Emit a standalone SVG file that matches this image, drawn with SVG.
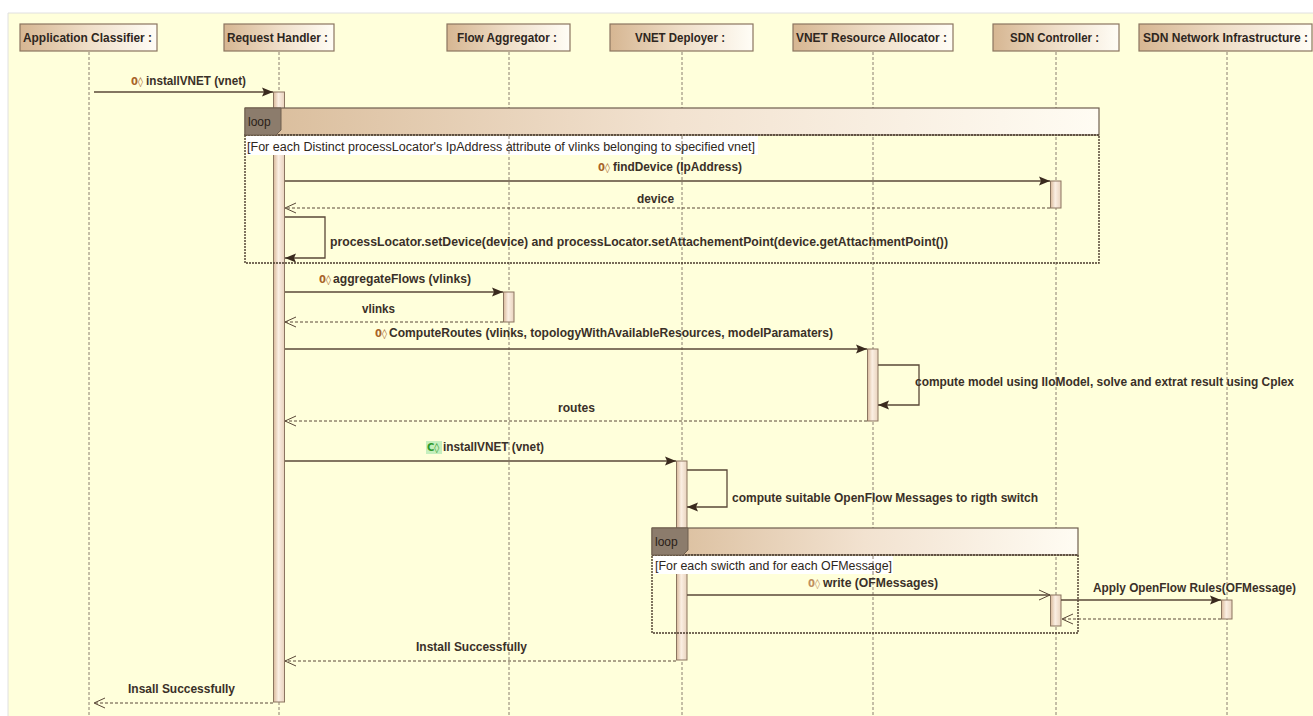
<svg xmlns="http://www.w3.org/2000/svg" width="1313" height="716" viewBox="0 0 1313 716">
<style>
.bg{fill:#ffffdb}
.hdr{fill:url(#hg);stroke:#8b7560;stroke-width:1.2}
.ht{font-family:"Liberation Sans",Arial,sans-serif;font-weight:bold;font-size:12px;fill:#2e2620}
.life{stroke:#8a7f70;stroke-width:1;stroke-dasharray:3 2;fill:none}
.act{fill:url(#ag);stroke:#8b7560;stroke-width:1}
.msg{stroke:#5a4838;stroke-width:1.3;fill:none}
.ret{stroke:#5a4838;stroke-width:1;stroke-dasharray:3 2;fill:none}
.lbl{font-family:"Liberation Sans",Arial,sans-serif;font-weight:bold;font-size:12px;fill:#3a3028}
.ico{font-family:"DejaVu Sans","Liberation Sans",sans-serif;font-weight:bold;font-size:10px;fill:#a8642a}
.grd{font-family:"Liberation Sans",Arial,sans-serif;font-size:12px;fill:#2e2620}
.band{fill:url(#bg2);stroke:#6e5e4e;stroke-width:1.2}
.body{fill:none;stroke:#4a3a2c;stroke-width:1.4;stroke-dasharray:2 1}
.tab{fill:#8c7c6c;stroke:#6e5e4e;stroke-width:1}
.tabt{font-family:"Liberation Sans",Arial,sans-serif;font-size:12px;fill:#2a2018}
</style>
<defs>
<linearGradient id="hg" x1="0" y1="0" x2="1" y2="0">
<stop offset="0" stop-color="#d6b692"/><stop offset="0.5" stop-color="#efdec8"/><stop offset="1" stop-color="#fffdf6"/>
</linearGradient>
<linearGradient id="bg2" x1="0" y1="0" x2="1" y2="0">
<stop offset="0" stop-color="#d9bc9a"/><stop offset="0.5" stop-color="#f2e2d0"/><stop offset="1" stop-color="#fffcf3"/>
</linearGradient>
<linearGradient id="ag" x1="0" y1="0" x2="1" y2="0">
<stop offset="0" stop-color="#d9b99a"/><stop offset="0.45" stop-color="#fbefe3"/><stop offset="1" stop-color="#e9d3bd"/>
</linearGradient>
<marker id="fa" markerWidth="12" markerHeight="10" refX="11" refY="5" orient="auto" markerUnits="userSpaceOnUse">
<path d="M0,0.5 L11,5 L0,9.5 L2,5 Z" fill="#3a2a1e"/>
</marker>
<marker id="oa" markerWidth="13" markerHeight="12" refX="12" refY="6" orient="auto" markerUnits="userSpaceOnUse">
<path d="M1,1 L12,6 L1,11" fill="none" stroke="#5a4838" stroke-width="1"/>
</marker>
</defs>

<rect x="0" y="0" width="1313" height="716" fill="#ffffff"/>
<rect class="bg" x="8" y="13" width="1306" height="704"/>
<line x1="8" y1="13" x2="1313" y2="13" stroke="#e0e0e0" stroke-width="1"/>
<line x1="8" y1="13" x2="8" y2="716" stroke="#e0e0e0" stroke-width="1"/>

<g id="lifelines">
<line class="life" x1="89" y1="52" x2="89" y2="716"/>
<line class="life" x1="279" y1="52" x2="279" y2="716"/>
<line class="life" x1="509" y1="52" x2="509" y2="716"/>
<line class="life" x1="682" y1="52" x2="682" y2="716"/>
<line class="life" x1="873" y1="52" x2="873" y2="716"/>
<line class="life" x1="1056" y1="52" x2="1056" y2="716"/>
<line class="life" x1="1227" y1="52" x2="1227" y2="716"/>
</g>

<g id="node-application-classifier">
<rect class="hdr" x="20" y="24" width="137" height="27"/>
<text class="ht" x="23" y="42" textLength="129" lengthAdjust="spacingAndGlyphs">Application Classifier :</text>
</g>
<g id="node-request-handler">
<rect class="hdr" x="224" y="24" width="110" height="27"/>
<text class="ht" x="227" y="42" textLength="101" lengthAdjust="spacingAndGlyphs">Request Handler :</text>
<rect class="act" x="273.5" y="92" width="11" height="610"/>
</g>
<g id="node-flow-aggregator">
<rect class="hdr" x="447" y="24" width="123" height="27"/>
<text class="ht" x="457" y="42" textLength="100" lengthAdjust="spacingAndGlyphs">Flow Aggregator :</text>
<rect class="act" x="503.5" y="292" width="10.5" height="30"/>
</g>
<g id="node-vnet-deployer">
<rect class="hdr" x="610" y="24" width="143" height="27"/>
<text class="ht" x="635" y="42" textLength="90" lengthAdjust="spacingAndGlyphs">VNET Deployer :</text>
<rect class="act" x="676.5" y="461" width="10.5" height="199"/>
</g>
<g id="node-vnet-resource-allocator">
<rect class="hdr" x="793" y="24" width="160" height="27"/>
<text class="ht" x="796" y="42" textLength="151" lengthAdjust="spacingAndGlyphs">VNET Resource Allocator :</text>
<rect class="act" x="867.5" y="349" width="10.5" height="72"/>
</g>
<g id="node-sdn-controller">
<rect class="hdr" x="993" y="24" width="126" height="27"/>
<text class="ht" x="1010" y="42" textLength="89" lengthAdjust="spacingAndGlyphs">SDN Controller :</text>
<rect class="act" x="1050.5" y="181" width="10.5" height="27"/>
<rect class="act" x="1050.5" y="595" width="10.5" height="31"/>
</g>
<g id="node-sdn-network-infrastructure">
<rect class="hdr" x="1139" y="24" width="173" height="27"/>
<text class="ht" x="1143" y="42" textLength="165" lengthAdjust="spacingAndGlyphs">SDN Network Infrastructure :</text>
<rect class="act" x="1221.5" y="600" width="10.5" height="19"/>
</g>

<g id="loop-1">
<rect x="246" y="136" width="512" height="19" fill="#ffffff"/>
<line class="life" x1="509" y1="136" x2="509" y2="155"/>
<line class="life" x1="682" y1="136" x2="682" y2="155"/>
<rect class="band" x="245" y="108" width="854" height="27"/>
<rect class="body" x="245" y="135" width="854" height="128"/>
<path class="tab" d="M245,108 H281 V130 L276,135 H245 Z"/>
<text class="tabt" x="248" y="126">loop</text>
<text class="grd" x="247" y="151" textLength="508" lengthAdjust="spacingAndGlyphs">[For each Distinct processLocator's IpAddress attribute of vlinks belonging to specified vnet]</text>
</g>

<g id="loop-2">
<rect x="653" y="556" width="240" height="18" fill="#ffffff"/>
<line class="life" x1="873" y1="556" x2="873" y2="574"/>
<rect class="band" x="652" y="528" width="426" height="27"/>
<rect class="body" x="652" y="555" width="426" height="78"/>
<path class="tab" d="M652,528 H688 V550 L683,555 H652 Z"/>
<text class="tabt" x="655" y="546">loop</text>
<text class="grd" x="655" y="570" textLength="237" lengthAdjust="spacingAndGlyphs">[For each swicth and for each OFMessage]</text>
</g>

<g id="connectors">
<line class="msg" x1="94" y1="92" x2="273" y2="92" marker-end="url(#fa)"/>
<line class="msg" x1="285" y1="181" x2="1050" y2="181" marker-end="url(#fa)"/>
<line class="ret" x1="1050" y1="208" x2="285" y2="208" marker-end="url(#oa)"/>
<path class="msg" d="M285,217 H325 V258 H285" marker-end="url(#fa)"/>
<line class="msg" x1="285" y1="292" x2="503" y2="292" marker-end="url(#fa)"/>
<line class="ret" x1="503" y1="322" x2="285" y2="322" marker-end="url(#oa)"/>
<line class="msg" x1="285" y1="349" x2="867" y2="349" marker-end="url(#fa)"/>
<path class="msg" d="M878,365 H919 V405 H878" marker-end="url(#fa)"/>
<line class="ret" x1="867" y1="421" x2="285" y2="421" marker-end="url(#oa)"/>
<line class="msg" x1="285" y1="461" x2="676" y2="461" marker-end="url(#fa)"/>
<path class="msg" d="M687,470 H727 V507 H687" marker-end="url(#fa)"/>
<line class="msg" x1="687" y1="595" x2="1050" y2="595" marker-end="url(#oa)"/>
<line class="msg" x1="1061" y1="600" x2="1221" y2="600" marker-end="url(#fa)"/>
<line class="ret" x1="1221" y1="619" x2="1062" y2="619" marker-end="url(#oa)"/>
<line class="ret" x1="676" y1="661" x2="285" y2="661" marker-end="url(#oa)"/>
<line class="ret" x1="273" y1="703" x2="94" y2="703" marker-end="url(#oa)"/>
</g>

<g id="labels">
<text class="ico" x="131" y="85">0◊</text>
<text class="lbl" x="146" y="85" textLength="100" lengthAdjust="spacingAndGlyphs">installVNET (vnet)</text>
<text class="ico" x="598" y="171">0◊</text>
<text class="lbl" x="613" y="171" textLength="129" lengthAdjust="spacingAndGlyphs">findDevice (IpAddress)</text>
<text class="lbl" x="637" y="203" textLength="37" lengthAdjust="spacingAndGlyphs">device</text>
<text class="lbl" x="330" y="246" textLength="618" lengthAdjust="spacingAndGlyphs">processLocator.setDevice(device) and  processLocator.setAttachementPoint(device.getAttachmentPoint())</text>
<text class="ico" x="319" y="283">0◊</text>
<text class="lbl" x="333" y="283" textLength="138" lengthAdjust="spacingAndGlyphs">aggregateFlows (vlinks)</text>
<text class="lbl" x="362" y="313" textLength="33" lengthAdjust="spacingAndGlyphs">vlinks</text>
<text class="ico" x="375" y="337">0◊</text>
<text class="lbl" x="389" y="337" textLength="444" lengthAdjust="spacingAndGlyphs">ComputeRoutes (vlinks, topologyWithAvailableResources, modelParamaters)</text>
<text class="lbl" x="915" y="386" textLength="379" lengthAdjust="spacingAndGlyphs">compute model using IloModel, solve and extrat result using Cplex</text>
<text class="lbl" x="558" y="412" textLength="37" lengthAdjust="spacingAndGlyphs">routes</text>
<rect x="426" y="441" width="16" height="13" fill="#c6efbe"/>
<text class="ico" x="427" y="451" style="fill:#2f9a2a">C◊</text>
<text class="lbl" x="443" y="451" textLength="101" lengthAdjust="spacingAndGlyphs">installVNET (vnet)</text>
<text class="lbl" x="732" y="502" textLength="306" lengthAdjust="spacingAndGlyphs">compute suitable OpenFlow Messages to rigth switch</text>
<text class="ico" x="808" y="587" style="fill:#c09060">0◊</text>
<text class="lbl" x="823" y="587" textLength="115" lengthAdjust="spacingAndGlyphs">write (OFMessages)</text>
<text class="lbl" x="1093" y="592" textLength="203" lengthAdjust="spacingAndGlyphs">Apply OpenFlow Rules(OFMessage)</text>
<text class="lbl" x="416" y="651" textLength="111" lengthAdjust="spacingAndGlyphs">Install Successfully</text>
<text class="lbl" x="128" y="693" textLength="107" lengthAdjust="spacingAndGlyphs">Insall Successfully</text>
</g>
</svg>
